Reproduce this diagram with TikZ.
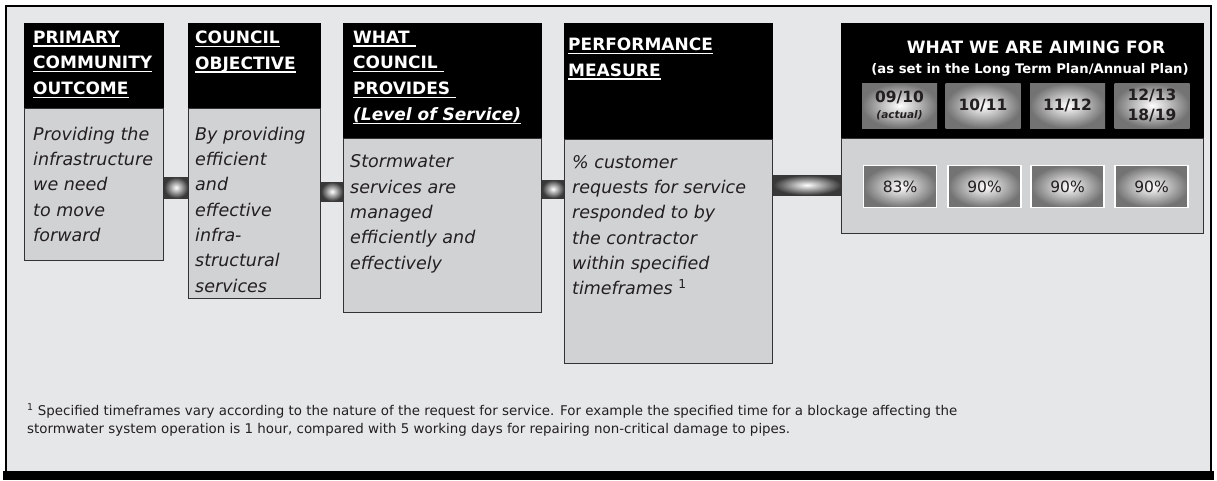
\documentclass[tikz,border=0pt]{standalone}
\usepackage{fontspec}
\setmainfont{DejaVu Sans}
\usetikzlibrary{positioning}

\definecolor{panelgrey}{HTML}{E6E7E8}
\definecolor{bodygrey}{HTML}{D1D2D4}
\definecolor{inkgrey}{HTML}{231F20}

% white rule a little under one header line
\newcommand{\headul}[1]{\setbox0\hbox{#1}\rlap{\rule[-3.4pt]{\wd0}{1.1pt}}\box0}

\begin{document}
\begin{tikzpicture}[x=1pt,y=-1pt,
	head/.style={fill=black, draw=black, anchor=north west, inner sep=0pt},
	body/.style={fill=bodygrey, draw=black!80, line width=1.2pt, anchor=north west, inner sep=0pt},
	headtext/.style={anchor=north west, inner sep=0pt, align=left, text=white, font=\bfseries\fontsize{17}{25.7}\selectfont},
	bodytext/.style={anchor=north west, inner sep=0pt, align=left, text=inkgrey, font=\itshape\fontsize{17.5}{25.3}\selectfont},
	link/.style={inner color=white, outer color=black!78},
	yearbox/.style={shade, inner color=white, outer color=black!55, minimum width=75pt, minimum height=45pt, inner sep=0pt, align=center, text=inkgrey, font=\bfseries\fontsize{15.5}{20}\selectfont},
	valuebox/.style={shade, inner color=white, outer color=black!55, draw=white, line width=1.5pt, minimum width=73pt, minimum height=42pt, inner sep=0pt, text=inkgrey, font=\fontsize{15.5}{18}\selectfont}]
	\useasboundingbox (0,0) rectangle (1217,480);
	% frame with the heavy bottom edge
	\draw[fill=panelgrey, line width=2.5pt] (6,6) rectangle (1211,472);
	\fill[black] (3,471) rectangle (1214,480);
	% the five columns: black heading over grey body
	\node[head, minimum width=139pt, minimum height=85pt] (h1) at (24,23) {};
	\node[body, minimum width=139pt, minimum height=152pt] (b1) at (24,108) {};
	\node[head, minimum width=132pt, minimum height=85pt] (h2) at (188,23) {};
	\node[body, minimum width=132pt, minimum height=190pt] (b2) at (188,108) {};
	\node[head, minimum width=198pt, minimum height=115pt] (h3) at (343,23) {};
	\node[body, minimum width=198pt, minimum height=174pt] (b3) at (343,138) {};
	\node[head, minimum width=208pt, minimum height=116pt] (h4) at (564,23) {};
	\node[body, minimum width=208pt, minimum height=224pt] (b4) at (564,139) {};
	\node[head, minimum width=362pt, minimum height=115pt] (h5) at (841,23) {};
	\node[body, minimum width=362pt, minimum height=95pt] (b5) at (841,138) {};
	% shaded links between the bodies
	\shade[link] (b1.east |- 0,177) rectangle (b2.west |- 0,198);
	\shade[link] (b2.east |- 0,182) rectangle (b3.west |- 0,201);
	\shade[link] (b3.east |- 0,180) rectangle (b4.west |- 0,198);
	\shade[link] (b4.east |- 0,175) rectangle (b5.west |- 0,195);
	% headings
	\node[headtext] (t1) at (33,30.6) {\headul{PRIMARY}\\\headul{COMMUNITY}\\\headul{OUTCOME}};
	\node[headtext] (t2) at (195,30.6) {\headul{COUNCIL}\\\headul{OBJECTIVE}};
	\node[headtext] (t3) at (353,30.6) {\headul{WHAT\ }\\\headul{COUNCIL\ }\\\headul{PROVIDES\ }\\\headul{\itshape(Level of Service)}};
	\node[headtext] (t4) at (568,37.6) {\headul{PERFORMANCE}\\\headul{MEASURE}};
	% body texts
	\node[bodytext] (s1) at (33,126.7) {Providing the\\infrastructure\\we need\\to move\\forward};
	\node[bodytext] (s2) at (195,126.7) {By providing\\efficient\\and\\effective\\infra-\\structural\\services};
	\node[bodytext] (s3) at (350,154.7) {Stormwater\\services are\\managed\\efficiently and\\effectively};
	\node[bodytext] (s4) at (572,155) {\% customer\\requests for service\\responded to by\\the contractor\\within specified\\timeframes \textsuperscript{\upshape 1}};
	% targets
	\node[text=white, font=\bfseries\fontsize{17}{20}\selectfont] (aim) at (1036,47) {WHAT WE ARE AIMING FOR};
	\node[text=white, font=\bfseries\fontsize{13.2}{15}\selectfont] (aimsub) at (1030,70) {(as set in the Long Term Plan/Annual Plan)};
	\node[yearbox] (y1) at (899.5,105.5) {09/10\\[-4pt]{\itshape\fontsize{10.5}{12}\selectfont (actual)}};
	\node[yearbox] (y2) at (983,105.5) {10/11};
	\node[yearbox] (y3) at (1067.5,105.5) {11/12};
	\node[yearbox] (y4) at (1152,105.5) {12/13\\18/19};
	\node[valuebox] (v1) at (900,186.5) {83\%};
	\node[valuebox] (v2) at (984.5,186.5) {90\%};
	\node[valuebox] (v3) at (1067.5,186.5) {90\%};
	\node[valuebox] (v4) at (1151.5,186.5) {90\%};
	% footnote
	\node[anchor=north west, inner sep=0pt, align=left, text=inkgrey, font=\fontsize{13.4}{18}\selectfont] (note) at (27,403) {\textsuperscript{1} Specified timeframes vary according to the nature of the request for service. For example the specified time for a blockage affecting the\\stormwater system operation is 1 hour, compared with 5 working days for repairing non-critical damage to pipes.};
\end{tikzpicture}
\end{document}
